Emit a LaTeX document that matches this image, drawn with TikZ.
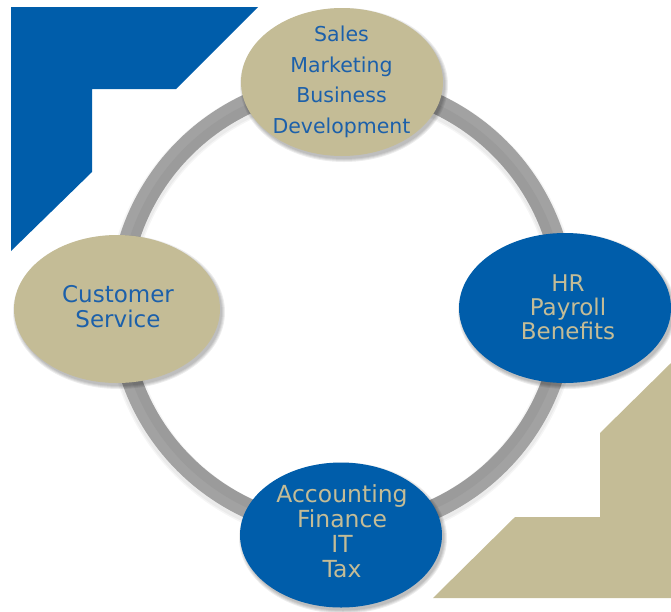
\documentclass[tikz,border=0pt]{standalone}
\usepackage{fontspec}
\setmainfont{DejaVu Sans}
\usetikzlibrary{shapes.geometric}
\definecolor{cblue}{RGB}{0,93,170}
\definecolor{ctan}{RGB}{196,188,150}
\definecolor{tblue}{RGB}{28,96,170}
\definecolor{ringgray}{RGB}{162,162,162}
\definecolor{ringdark}{RGB}{140,140,140}
\tikzset{
  oval/.style={ellipse, inner sep=0pt, draw=none},
  tanoval/.style={oval, fill=ctan},
  blueoval/.style={oval, fill=cblue},
  tantext/.style={text=tblue, align=center, inner sep=0pt},
  bluetext/.style={text=ctan, align=center, inner sep=0pt},
  softshadow/.style={fill=black, opacity=0.07}
}
\begin{document}
\begin{tikzpicture}[x=1pt,y=-1pt]
\useasboundingbox (0,0) rectangle (671,611);
% corner shapes
\fill[cblue] (11,7) -- (258,7) -- (176,89) -- (92,89) -- (92,172) -- (11,251) -- cycle;
\fill[ctan] (671,363) -- (600,433) -- (600,517) -- (515,517) -- (433,598) -- (671,598) -- cycle;
% ring shadow
\foreach \w in {26,23}
  \draw[line width=\w pt, black, opacity=0.04] (342,309) circle[radius=223];
% ring
\coordinate (rc) at (342,306);
\draw[line width=20pt, ringgray] (rc) circle[radius=223];
\draw[line width=10pt, ringdark, opacity=0.3] (rc) circle[radius=218];
% ellipse shadows
\foreach \cx/\cy/\w/\h in {342/82/202/148, 117/309/206/148, 565/308/212/150, 341/535/202/145}{
  \foreach \d in {6,4,2,0}
    \fill[softshadow] (\cx+2,\cy+3) ellipse[x radius=\w/2+\d/2, y radius=\h/2+\d/2];
}
% ellipses
\node[tanoval, minimum width=202pt, minimum height=148pt] (top) at (342,82) {};
\node[tanoval, minimum width=206pt, minimum height=148pt] (left) at (117,309) {};
\node[blueoval, minimum width=212pt, minimum height=150pt] (right) at (565,308) {};
\node[blueoval, minimum width=202pt, minimum height=145pt] (bottom) at (341,535) {};
% texts
\node[tantext, font=\fontsize{20.5}{30.5}\selectfont] (ttop) at (341.5,82) {Sales\\Marketing\\Business\\Development};
\node[tantext, font=\fontsize{23}{25}\selectfont] (tleft) at (118,307) {Customer\\Service};
\node[bluetext, font=\fontsize{23}{24}\selectfont] (tright) at (568,307.5) {HR\\Payroll\\Benefits};
\node[bluetext, font=\fontsize{23.5}{25}\selectfont] (tbottom) at (342,531.5) {Accounting\\Finance\\IT\\Tax};
\end{tikzpicture}
\end{document}
